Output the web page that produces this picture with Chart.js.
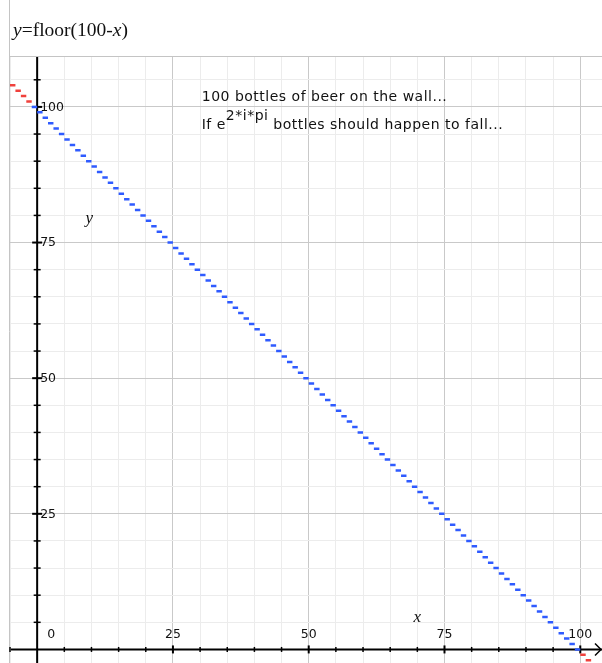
<!DOCTYPE html>
<html>
<head>
<meta charset="utf-8">
<script src="https://cdn.jsdelivr.net/npm/chart.js@4.4.1/dist/chart.umd.min.js"></script>
<style>
  html, body { margin: 0; padding: 0; background: #fff; }
  #wrap { width: 602px; height: 663px; position: relative; }
</style>
</head>
<body>
<div id="wrap"><canvas id="floorChart" width="602" height="663"></canvas></div>
<script>
// step segments of y = floor(100 - x)
// left part drawn in red (x < -1)
const redLeftStart = [-5, -4, -3, -2];
const redLeftLevel = [104, 103, 102, 101];

// main part drawn in blue (-1 <= x < 100)
const blueStart = [
  -1, 0, 1, 2, 3, 4, 5, 6, 7, 8, 9, 10, 11, 12, 13, 14, 15, 16, 17, 18, 19,
  20, 21, 22, 23, 24, 25, 26, 27, 28, 29, 30, 31, 32, 33, 34, 35, 36, 37, 38, 39,
  40, 41, 42, 43, 44, 45, 46, 47, 48, 49, 50, 51, 52, 53, 54, 55, 56, 57, 58, 59,
  60, 61, 62, 63, 64, 65, 66, 67, 68, 69, 70, 71, 72, 73, 74, 75, 76, 77, 78, 79,
  80, 81, 82, 83, 84, 85, 86, 87, 88, 89, 90, 91, 92, 93, 94, 95, 96, 97, 98, 99
];
const blueLevel = [
  100, 99, 98, 97, 96, 95, 94, 93, 92, 91, 90, 89, 88, 87, 86, 85, 84, 83, 82, 81, 80,
  79, 78, 77, 76, 75, 74, 73, 72, 71, 70, 69, 68, 67, 66, 65, 64, 63, 62, 61, 60,
  59, 58, 57, 56, 55, 54, 53, 52, 51, 50, 49, 48, 47, 46, 45, 44, 43, 42, 41, 40,
  39, 38, 37, 36, 35, 34, 33, 32, 31, 30, 29, 28, 27, 26, 25, 24, 23, 22, 21, 20,
  19, 18, 17, 16, 15, 14, 13, 12, 11, 10, 9, 8, 7, 6, 5, 4, 3, 2, 1, 0
];

// right part drawn in red (x >= 100)
const redRightStart = [100, 101, 102, 103];
const redRightLevel = [-1, -2, -3, -4];

// axis labels
const xTickValues = [0, 25, 50, 75, 100];
const yTickValues = [25, 50, 75, 100];
const titleParts = [['y', true], ['=floor(100-', false], ['x', true], [')', false]];
const noteLine1 = '100 bottles of beer on the wall...';
const noteLine2a = 'If e';
const noteLine2sup = '2*i*pi';
const noteLine2b = ' bottles should happen to fall...';

// turn start/level lists into separate flat segments
function buildSteps(starts, levels) {
    const pts = [];
    starts.forEach((x0, i) => {
        pts.push({ x: x0, y: levels[i] });
        pts.push({ x: x0 + 1, y: levels[i] });
        pts.push({ x: x0 + 1, y: null });
    });
    return pts;
}

const SANS = '"DejaVu Sans", "Liberation Sans", sans-serif';
const SERIF = '"Liberation Serif", "DejaVu Serif", serif';

const gridColor = (ctx) => {
    const v = ctx.tick ? ctx.tick.value : 1;
    return v % 25 === 0 ? '#c9c9c9' : '#ececec';
};

// axes, arrows, labels and text notes
const decorPlugin = {
    id: 'decor',
    beforeDatasetsDraw(chart) {
        const { ctx, chartArea, scales } = chart;
        const xs = scales.x, ys = scales.y;
        const x0 = xs.getPixelForValue(0);
        const y0 = ys.getPixelForValue(0);
        ctx.save();

        // title box borders
        ctx.strokeStyle = '#c4c4c4';
        ctx.lineWidth = 1;
        ctx.beginPath();
        ctx.moveTo(chartArea.left - 0.5, 0);
        ctx.lineTo(chartArea.left - 0.5, chartArea.bottom);
        ctx.moveTo(chartArea.left, chartArea.top - 0.5);
        ctx.lineTo(chartArea.right, chartArea.top - 0.5);
        ctx.stroke();

        // axes
        ctx.strokeStyle = '#000';
        ctx.lineWidth = 2;
        ctx.beginPath();
        ctx.moveTo(chartArea.left + 1, y0);
        ctx.lineTo(chartArea.right, y0);
        ctx.moveTo(x0, chartArea.top);
        ctx.lineTo(x0, chartArea.bottom);
        ctx.stroke();

        // arrow at right end of x axis
        ctx.lineWidth = 1.5;
        ctx.beginPath();
        ctx.moveTo(chartArea.right - 7, y0 - 6);
        ctx.lineTo(chartArea.right - 1, y0);
        ctx.lineTo(chartArea.right - 7, y0 + 6);
        ctx.stroke();

        // tick marks every 5 units
        xs.ticks.forEach(t => {
            if (t.value === 0) return;
            const px = xs.getPixelForValue(t.value);
            const big = t.value % 25 === 0;
            ctx.lineWidth = big ? 2 : 1.5;
            const h = big ? 4 : 2.5;
            ctx.beginPath();
            ctx.moveTo(px, y0 - h);
            ctx.lineTo(px, y0 + h);
            ctx.stroke();
        });
        ys.ticks.forEach(t => {
            if (t.value === 0) return;
            const py = ys.getPixelForValue(t.value);
            const big = t.value % 25 === 0;
            ctx.lineWidth = big ? 2 : 1.5;
            const w = big ? 5 : 3.5;
            ctx.beginPath();
            ctx.moveTo(x0 - w, py);
            ctx.lineTo(x0 + w, py);
            ctx.stroke();
        });
        ctx.restore();
    },
    afterDraw(chart) {
        const { ctx, chartArea, scales } = chart;
        const xs = scales.x, ys = scales.y;
        const x0 = xs.getPixelForValue(0);
        const y0 = ys.getPixelForValue(0);
        ctx.save();
        ctx.fillStyle = '#111';

        // numeric labels
        ctx.font = '12.5px ' + SANS;
        ctx.textBaseline = 'middle';
        ctx.textAlign = 'center';
        xTickValues.forEach(v => {
            const px = v === 0 ? x0 + 14 : xs.getPixelForValue(v);
            ctx.fillText(String(v), px, y0 - 15);
        });
        ctx.textAlign = 'left';
        yTickValues.forEach(v => {
            ctx.fillText(String(v), x0 + 3, ys.getPixelForValue(v) + 0.5);
        });

        // axis names
        ctx.font = 'italic 17px ' + SERIF;
        ctx.textAlign = 'center';
        ctx.fillText('y', xs.getPixelForValue(9.6), ys.getPixelForValue(79.5));
        ctx.fillText('x', xs.getPixelForValue(70), ys.getPixelForValue(5.8));

        // title
        ctx.textAlign = 'left';
        ctx.textBaseline = 'alphabetic';
        let tx = chartArea.left + 3;
        titleParts.forEach(([s, it]) => {
            ctx.font = (it ? 'italic ' : '') + '19.5px ' + SERIF;
            ctx.fillText(s, tx, 36);
            tx += ctx.measureText(s).width;
        });

        // notes
        ctx.font = '14px ' + SANS;
        ctx.letterSpacing = '0.5px';
        const nx = xs.getPixelForValue(30.3);
        const ny1 = ys.getPixelForValue(101);
        ctx.fillText(noteLine1, nx, ny1);
        const ny2 = ny1 + 28;
        ctx.fillText(noteLine2a, nx, ny2);
        let sx = nx + ctx.measureText(noteLine2a).width;
        ctx.fillText(noteLine2sup, sx, ny2 - 9);
        sx += ctx.measureText(noteLine2sup).width;
        ctx.fillText(noteLine2b, sx, ny2);
        ctx.restore();
    }
};

const stepStyle = (color) => ({
    showLine: true,
    borderColor: color,
    backgroundColor: color,
    borderWidth: 2.5,
    borderCapStyle: 'butt',
    pointRadius: 0,
    spanGaps: false,
    fill: false
});

new Chart(document.getElementById('floorChart'), {
    type: 'scatter',
    data: {
        datasets: [
            { label: 'left', data: buildSteps(redLeftStart, redLeftLevel), ...stepStyle('#f0413c') },
            { label: 'main', data: buildSteps(blueStart, blueLevel), ...stepStyle('#2f5bff') },
            { label: 'right', data: buildSteps(redRightStart, redRightLevel), ...stepStyle('#f0413c') }
        ]
    },
    options: {
        responsive: false,
        animation: false,
        devicePixelRatio: 1,
        layout: { padding: { top: 57, left: 10, right: 0, bottom: 0 } },
        plugins: {
            legend: { display: false },
            tooltip: { enabled: false }
        },
        scales: {
            x: {
                type: 'linear',
                min: -5,
                max: 104,
                ticks: { display: false, stepSize: 5, includeBounds: false },
                grid: { color: gridColor, drawTicks: false, tickLength: 0 },
                border: { display: false }
            },
            y: {
                type: 'linear',
                min: -2.5,
                max: 109.2,
                ticks: { display: false, stepSize: 5, includeBounds: false },
                grid: { color: gridColor, drawTicks: false, tickLength: 0 },
                border: { display: false }
            }
        }
    },
    plugins: [decorPlugin]
});
</script>
</body>
</html>
